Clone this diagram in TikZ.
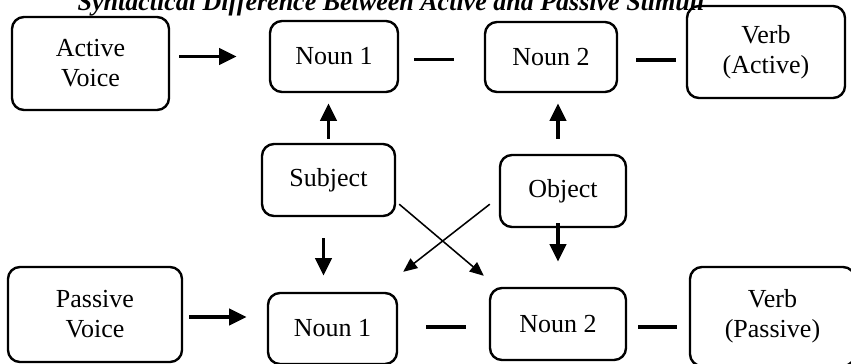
\documentclass[tikz,border=0pt]{standalone}
\usepackage{fontspec}
\setmainfont{Liberation Serif}
\usepackage{tikz}
\usetikzlibrary{arrows.meta}

\begin{document}
\begin{tikzpicture}[x=0.025cm,y=-0.025cm,
  box/.style={
   draw,
   line width=1.7pt,
   rounded corners=0.3cm,
   align=center,
   inner sep=0pt,
   font=\fontsize{18.5}{21.3}\selectfont
  },
  link/.style={
    line width=2.8pt
  },
  flow/.style={
    link,
    -{Triangle[length=0.44cm,width=0.4cm]}
  },
  cross/.style={
    line width=1.1pt,
    -{Triangle[length=0.35cm,width=0.3cm]}
  }]
  \clip (0,0) rectangle (851,363);
  \node[anchor=base,font=\fontsize{18.5}{21.3}\selectfont\bfseries\itshape] (title)
      at (391,10) {Syntactical Difference Between Active and Passive Stimuli};
  % active voice row
  \node[box,minimum width=3.925cm,minimum height=2.325cm] (active)
      at (90.5,63.5) {Active\\Voice};
  \node[box,minimum width=3.2cm,minimum height=1.775cm] (n1a)
      at (334,56.5) {Noun 1};
  \node[box,minimum width=3.3cm,minimum height=1.75cm] (n2a)
      at (551,57) {Noun 2};
  \node[box,minimum width=3.95cm,minimum height=2.3cm] (verba)
      at (766,52) {Verb\\(Active)};
  % roles
  \node[box,minimum width=3.325cm,minimum height=1.8cm] (subj)
      at (328.5,180) {Subject};
  \node[box,minimum width=3.15cm,minimum height=1.8cm] (obj)
      at (563,191) {Object};
  % passive voice row
  \node[box,minimum width=4.35cm,minimum height=2.375cm] (passive)
      at (95,314.5) {Passive\\Voice};
  \node[box,minimum width=3.225cm,minimum height=1.775cm] (n1p)
      at (332.5,328.5) {Noun 1};
  \node[box,minimum width=3.4cm,minimum height=1.8cm] (n2p)
      at (558,324) {Noun 2};
  \node[box,minimum width=4.125cm,minimum height=2.475cm] (verbp)
      at (772.5,316.5) {Verb\\(Passive)};

  \draw[flow,shorten <=0.225cm,shorten >=0.8cm] (active.east |- n1a.west) -- (n1a.west);
  \draw[link,shorten <=0.375cm,shorten >=0.75cm] ([shift={(0,3)}]n1a.east) -- ([shift={(0,3)}]n1a.east -| n2a.west);
  \draw[link,shorten <=0.45cm,shorten >=0.25cm] ([shift={(0,3)}]n2a.east) -- ([shift={(0,3)}]n2a.east -| verba.west);

  \draw[flow,shorten <=0.1cm,shorten >=0.25cm] (subj.north) -- (subj.north |- n1a.south);
  \draw[flow,shorten <=0.375cm,shorten >=0.25cm] ([shift={(-5,0)}]obj.north) -- ([shift={(-5,0)}]obj.north |- n2a.south);
  \draw[flow,shorten <=0.525cm,shorten >=0.4cm] ([shift={(-5,0)}]subj.south) -- ([shift={(-5,0)}]subj.south |- n1p.north);
  \draw[flow,shorten <=-0.125cm,shorten >=0.625cm] ([shift={(-5,0)}]obj.south) -- ([shift={(-5,0)}]obj.south |- n2p.north);

  \draw[cross] ([shift={(3,-13)}]subj.south east) -- ([shift={(-5,-11)}]n2p.north west);
  \draw[cross] ([shift={(-9,-24)}]obj.south west) -- ([shift={(5,-20)}]n1p.north east);

  \draw[flow,shorten <=0.15cm,shorten >=0.5cm] ([shift={(0,2.5)}]passive.east) -- ([shift={(0,2.5)}]passive.east -| n1p.west);
  \draw[link,shorten <=0.7cm,shorten >=0.575cm] ([shift={(0,-1.5)}]n1p.east) -- ([shift={(0,-1.5)}]n1p.east -| n2p.west);
  \draw[link,shorten <=0.275cm,shorten >=0.3cm] ([shift={(0,3)}]n2p.east) -- ([shift={(0,3)}]n2p.east -| verbp.west);
\end{tikzpicture}
\end{document}
